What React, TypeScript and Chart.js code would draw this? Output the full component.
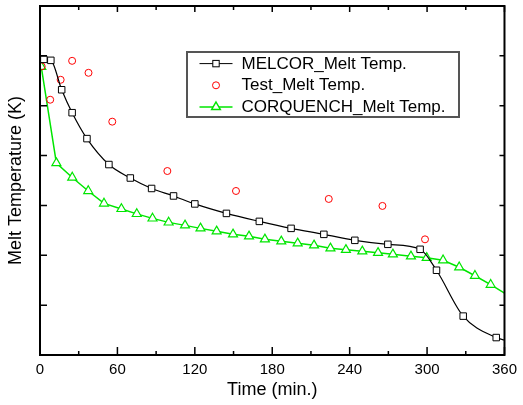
import React, { useEffect, useRef } from "react";
import { Chart, registerables } from "chart.js";

Chart.register(...registerables);

const FONT = "'Liberation Sans', Arial, Helvetica, sans-serif";
const GREEN = "#00e600";

// Time (min.) and melt temperature (relative units; the reference shows no y labels)
const melcorTime = [0, 3, 8.4, 16.8, 24.9, 36.4, 53.4, 70, 86.5, 103.5, 120, 144.5, 170, 194.6, 220, 244, 269.6, 294.6, 307.3, 328, 353.6, 360];
const melcorTemp = [5.99, 5.93, 5.91, 5.32, 4.86, 4.34, 3.82, 3.55, 3.34, 3.19, 3.03, 2.84, 2.68, 2.54, 2.42, 2.30, 2.22, 2.12, 1.70, 0.78, 0.35, 0.30];

const testTime = [1.3, 7.9, 16, 24.9, 37.6, 56, 98.7, 151.9, 223.8, 265.4, 298.4];
const testTemp = [5.79, 5.12, 5.52, 5.90, 5.66, 4.68, 3.69, 3.29, 3.13, 2.99, 2.32];

const corqTime = [0, 1, 12.7, 25, 37.4, 49.6, 63.1, 75, 87.2, 99.7, 112.4, 124.4, 136.9, 149.6, 162, 174.3, 187, 199.7, 212.4, 225.1, 237.1, 249.8, 262, 273.5, 287.5, 299.7, 312.4, 324.9, 337.1, 349.3, 360];
const corqTemp = [5.86, 5.78, 3.85, 3.56, 3.29, 3.04, 2.93, 2.83, 2.74, 2.66, 2.60, 2.54, 2.48, 2.42, 2.38, 2.32, 2.28, 2.24, 2.20, 2.14, 2.11, 2.08, 2.05, 2.02, 1.98, 1.95, 1.90, 1.76, 1.59, 1.41, 1.24];

const seriesLabels = ["MELCOR_Melt Temp.", "Test_Melt Temp.", "CORQUENCH_Melt Temp."];
const xTickValues = [0, 60, 120, 180, 240, 300, 360];
const xMinorValues = [30, 90, 150, 210, 270, 330];
const yTickValues = [1, 2, 3, 4, 5, 6];

const toPoints = (xs: number[], ys: number[]) => xs.map((x, i) => ({ x, y: ys[i] }));

const framePlugin = {
  id: "frameTicks",
  afterDatasetsDraw(chart: any) {
    const { ctx, chartArea: a, scales } = chart;
    const xs = scales.x;
    const ys = scales.y;
    ctx.save();
    ctx.strokeStyle = "#000";
    ctx.lineWidth = 1.5;
    ctx.beginPath();
    xTickValues.forEach((v) => {
      const px = xs.getPixelForValue(v);
      ctx.moveTo(px, a.bottom);
      ctx.lineTo(px, a.bottom - 8);
      ctx.moveTo(px, a.top);
      ctx.lineTo(px, a.top + 6);
    });
    xMinorValues.forEach((v) => {
      const px = xs.getPixelForValue(v);
      ctx.moveTo(px, a.bottom);
      ctx.lineTo(px, a.bottom - 4);
      ctx.moveTo(px, a.top);
      ctx.lineTo(px, a.top + 4);
    });
    yTickValues.forEach((v) => {
      const py = ys.getPixelForValue(v);
      ctx.moveTo(a.left, py);
      ctx.lineTo(a.left + 7, py);
      ctx.moveTo(a.right, py);
      ctx.lineTo(a.right - 5, py);
    });
    ctx.stroke();
    ctx.lineWidth = 2;
    ctx.strokeRect(a.left, a.top, a.right - a.left, a.bottom - a.top);
    ctx.restore();
  },
};

const legendPlugin = {
  id: "originLegend",
  afterDraw(chart: any) {
    const { ctx, chartArea: a } = chart;
    const left = a.left + 147;
    const top = a.top + 46;
    const w = 272;
    const h = 65;
    ctx.save();
    ctx.fillStyle = "#fff";
    ctx.fillRect(left, top, w, h);
    ctx.strokeStyle = "#555";
    ctx.lineWidth = 2;
    ctx.strokeRect(left, top, w, h);
    const rows = [top + 11.6, top + 33.3, top + 55];
    const x0 = left + 12.5;
    const x1 = left + 45.5;
    const mx = (x0 + x1) / 2;
    // MELCOR
    ctx.strokeStyle = "#000";
    ctx.lineWidth = 1;
    ctx.beginPath();
    ctx.moveTo(x0, rows[0]);
    ctx.lineTo(x1, rows[0]);
    ctx.stroke();
    ctx.fillStyle = "#fff";
    ctx.fillRect(mx - 3.2, rows[0] - 3.2, 6.4, 6.4);
    ctx.strokeRect(mx - 3.2, rows[0] - 3.2, 6.4, 6.4);
    // Test
    ctx.strokeStyle = "#ff0000";
    ctx.beginPath();
    ctx.arc(mx, rows[1], 3.5, 0, Math.PI * 2);
    ctx.stroke();
    // CORQUENCH
    ctx.strokeStyle = GREEN;
    ctx.lineWidth = 1.5;
    ctx.beginPath();
    ctx.moveTo(x0, rows[2]);
    ctx.lineTo(x1, rows[2]);
    ctx.stroke();
    const r = 5;
    ctx.beginPath();
    ctx.moveTo(mx, rows[2] - r);
    ctx.lineTo(mx + r * 0.866, rows[2] + r * 0.5);
    ctx.lineTo(mx - r * 0.866, rows[2] + r * 0.5);
    ctx.closePath();
    ctx.fillStyle = "#fff";
    ctx.fill();
    ctx.stroke();
    // text
    ctx.fillStyle = "#000";
    ctx.font = `17px ${FONT}`;
    ctx.textBaseline = "middle";
    ctx.textAlign = "left";
    seriesLabels.forEach((t, i) => ctx.fillText(t, left + 54.5, rows[i] + 0.5));
    ctx.restore();
  },
};

export default function App() {
  const ref = useRef<HTMLCanvasElement | null>(null);

  useEffect(() => {
    if (!ref.current) return;
    const melcorRadius = melcorTime.map((_, i) => (i === 0 || i === melcorTime.length - 1 ? 0 : 4.6));
    const corqRadius = corqTime.map((_, i) => (i === 0 || i === corqTime.length - 1 ? 0 : 5.2));
    const chart = new Chart(ref.current, {
      type: "scatter",
      data: {
        datasets: [
          {
            label: seriesLabels[0],
            data: toPoints(melcorTime, melcorTemp),
            showLine: true,
            borderColor: "#000",
            borderWidth: 1.2,
            cubicInterpolationMode: "monotone",
            pointStyle: "rect",
            pointRadius: melcorRadius,
            pointBackgroundColor: "#fff",
            pointBorderColor: "#000",
            pointBorderWidth: 1,
          },
          {
            label: seriesLabels[1],
            data: toPoints(testTime, testTemp),
            showLine: false,
            pointStyle: "circle",
            pointRadius: 3.5,
            pointBackgroundColor: "rgba(0,0,0,0)",
            pointBorderColor: "#ff0000",
            pointBorderWidth: 1,
          },
          {
            label: seriesLabels[2],
            data: toPoints(corqTime, corqTemp),
            showLine: true,
            borderColor: GREEN,
            borderWidth: 1.5,
            tension: 0,
            pointStyle: "triangle",
            pointRadius: corqRadius,
            pointBackgroundColor: "#fff",
            pointBorderColor: GREEN,
            pointBorderWidth: 1.2,
          },
        ],
      },
      options: {
        animation: false,
        responsive: false,
        devicePixelRatio: 1,
        layout: { padding: { top: 6, right: 11, left: 0, bottom: 0 } },
        plugins: {
          legend: { display: false },
          tooltip: { enabled: false },
        },
        scales: {
          x: {
            type: "linear",
            min: 0,
            max: 360,
            border: { display: false },
            grid: { display: false, drawTicks: false },
            ticks: {
              stepSize: 60,
              padding: 6,
              color: "#000",
              font: { family: FONT, size: 15 },
              maxRotation: 0,
            },
            title: {
              display: true,
              text: "Time (min.)",
              color: "#000",
              font: { family: FONT, size: 18 },
              padding: { top: 0, bottom: 4 },
            },
            afterFit: (s: any) => {
              s.height = 50;
            },
          },
          y: {
            type: "linear",
            min: 0,
            max: 7,
            border: { display: false },
            grid: { display: false, drawTicks: false },
            ticks: { display: false, stepSize: 1 },
            title: {
              display: true,
              text: "Melt Temperature (K)",
              color: "#000",
              font: { family: FONT, size: 18 },
              padding: { top: 5, bottom: 0 },
            },
            afterFit: (s: any) => {
              s.width = 40;
            },
          },
        },
      },
      plugins: [framePlugin, legendPlugin],
    } as any);
    return () => chart.destroy();
  }, []);

  return (
    <div style={{ position: "fixed", left: 0, top: 0, width: 523, height: 405, background: "#fff" }}>
      <canvas ref={ref} width={523} height={405} style={{ width: 523, height: 405, display: "block" }} />
    </div>
  );
}
